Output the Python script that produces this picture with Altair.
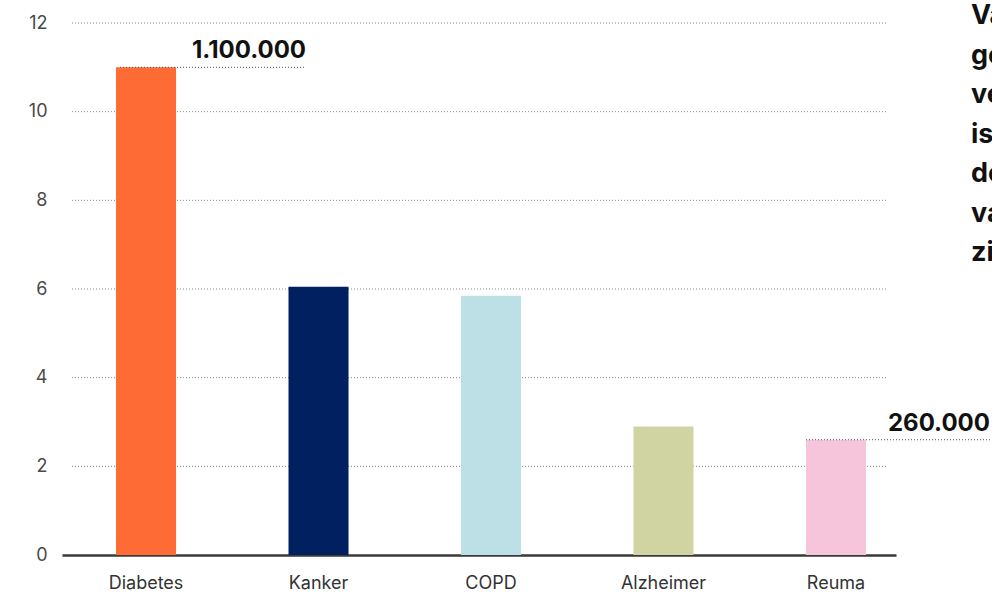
import altair as alt
import pandas as pd

# Aantal mensen per chronische ziekte, in honderdduizenden
categories = ["Diabetes", "Kanker", "COPD", "Alzheimer", "Reuma"]
values = [11.0, 6.05, 5.85, 2.9, 2.6]
colors = ["#FF6B35", "#00205F", "#BDE0E7", "#D0D4A2", "#F6C4DB"]
y_ticks = [0, 2, 4, 6, 8, 10, 12]
grid_levels = [2, 4, 6, 8, 10, 12]
labelled = ["Diabetes", "Reuma"]

side_lines = [
    "Van alle chronische ziekten",
    "geldt diabetes als de",
    "veruit meest voorkomende. Het",
    "is een aandoening waarmee",
    "de zorg steeds vaker",
    "van doen heeft: vier keer meer",
    "zieken dan bij reuma.",
]


def fmt(v):
    return f"{round(v * 100000):,}".replace(",", ".")


df = pd.DataFrame({"ziekte": categories, "waarde": values})
df["label"] = [fmt(v) for v in values]
grid_df = pd.DataFrame({"niveau": grid_levels})

W, H = 834, 532
FONT = "Inter"

x_scale = alt.Scale(domain=categories, paddingInner=0.652, paddingOuter=0.2435, align=0.643)
y_scale = alt.Scale(domain=[0, 12], nice=False)

y_axis = alt.Axis(
    title=None,
    values=y_ticks,
    domain=False,
    ticks=False,
    grid=False,
    labelFontSize=18,
    labelColor="#4a4a4a",
    labelFont=FONT,
    labelPadding=15,
)

x_enc = alt.X(
    "ziekte:N",
    scale=x_scale,
    sort=categories,
    axis=alt.Axis(
        title=None,
        labelAngle=0,
        ticks=False,
        domainColor="#3a3a3a",
        domainWidth=2.5,
        labelFontSize=18,
        labelColor="#333333",
        labelFont=FONT,
        labelPadding=19,
    ),
)

grid = alt.Chart(grid_df).mark_rule(
    color="#8a8a8a", strokeWidth=1, strokeDash=[1, 2]
).encode(
    y=alt.Y("niveau:Q", scale=y_scale, axis=y_axis),
    x=alt.value(10),
    x2=alt.value(W - 10),
)

bars = alt.Chart(df).mark_bar().encode(
    x=x_enc,
    y=alt.Y("waarde:Q", scale=y_scale, axis=y_axis),
    color=alt.Color("ziekte:N", scale=alt.Scale(domain=categories, range=colors), legend=None),
)

# Uitgelichte waarden: stippellijn vanaf de balk met het getal erboven
# (start t.o.v. linkerkant balk, eind t.o.v. midden balk, tekst t.o.v. linkerkant)
offsets = {"Diabetes": (4, 159, 190), "Reuma": (0, 170, 184)}
notes = []
for name in labelled:
    start, end, text_dx = offsets[name]
    sub = alt.Chart(df).transform_filter(alt.datum.ziekte == name)
    notes.append(
        sub.mark_rule(color="#555555", strokeWidth=1, strokeDash=[1, 2],
                      xOffset=start, x2Offset=end).encode(
            x=alt.X("ziekte:N", scale=x_scale, bandPosition=0),
            x2=alt.X2("ziekte:N"),
            y=alt.Y("waarde:Q", scale=y_scale),
        )
    )
    notes.append(
        sub.mark_text(align="right", baseline="alphabetic", dx=text_dx, dy=-9,
                      fontSize=24, fontWeight="bold", font=FONT, color="#111111").encode(
            x=alt.X("ziekte:N", scale=x_scale, bandPosition=0),
            y=alt.Y("waarde:Q", scale=y_scale),
            text="label:N",
        )
    )

side = alt.Chart(pd.DataFrame({"k": [0]})).mark_text(
    align="left", baseline="alphabetic", fontSize=27, fontWeight="bold",
    lineHeight=39.5, font=FONT, color="#111111",
).encode(
    x=alt.value({"expr": "width + 75"}),
    y=alt.value(1),
    text=alt.value(side_lines),
)

chart = alt.layer(grid, bars, *notes, side).properties(
    width=W,
    height=H,
    padding={"left": 62, "top": 23, "right": 96, "bottom": 37},
    autosize=alt.AutoSizeParams(type="none"),
    background="white",
).configure_view(stroke=None)

chart.save("out.html", embed_options={"renderer": "svg", "actions": False})
